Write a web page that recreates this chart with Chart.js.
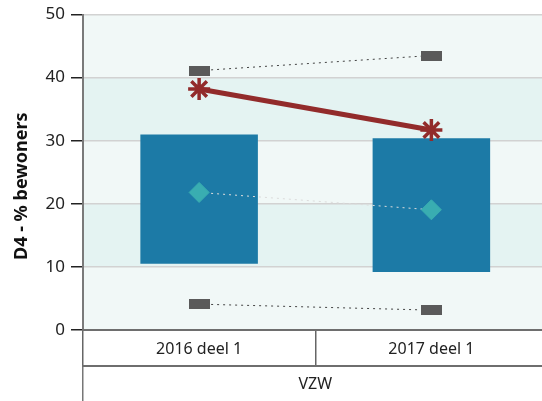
<!DOCTYPE html>
<html>
<head>
<meta charset="utf-8">
<script src="https://cdn.jsdelivr.net/npm/chart.js@4"></script>
<style>
  html, body { margin: 0; padding: 0; overflow: hidden; background: #fff; }
  #wrap { width: 562px; height: 401px; }
</style>
</head>
<body>
<div id="wrap"><canvas id="grafica" width="562" height="401"></canvas></div>
<script>
// Datos
const periodes = ['2016 deel 1', '2017 deel 1'];
const groep = ['VZW'];
const p25 = [10.5, 9.2];
const p75 = [31.0, 30.4];
const mediaan = [21.8, 19.05];
const maximum = [41.1, 43.5];
const minimum = [4.1, 3.15];
const eigen = [38.2, 31.7];
const asTitel = 'D4 - % bewoners';

// Marker rechthoekje voor min/max
function rechthoek() {
  const c = document.createElement('canvas');
  c.width = 21;
  c.height = 10;
  const g = c.getContext('2d');
  g.fillStyle = '#5a5a5a';
  g.fillRect(0, 0, 21, 10);
  return c;
}
const blokje = rechthoek();

// Achtergrondbanden
const banden = {
  id: 'banden',
  beforeDraw(chart) {
    const { ctx, chartArea, scales } = chart;
    const y = scales.y;
    ctx.save();
    ctx.fillStyle = '#f1f8f7';
    ctx.fillRect(chartArea.left, chartArea.top, chartArea.right - chartArea.left, chartArea.bottom - chartArea.top);
    ctx.fillStyle = '#e4f3f2';
    [[10, 20], [30, 40]].forEach(b => {
      const top = y.getPixelForValue(b[1]);
      const bot = y.getPixelForValue(b[0]);
      ctx.fillRect(chartArea.left, top, chartArea.right - chartArea.left, bot - top);
    });
    ctx.restore();
  },
  // Astitel, ongeveer gecentreerd over y-as plus eerste x-niveau
  afterDraw(chart) {
    const { ctx, scales } = chart;
    const midden = (scales.y.top + scales.x.bottom) / 2 - 4;
    ctx.save();
    ctx.translate(22, midden);
    ctx.rotate(-Math.PI / 2);
    ctx.font = 'bold 18px "Noto Sans"';
    ctx.fillStyle = '#111';
    ctx.textAlign = 'center';
    ctx.textBaseline = 'middle';
    ctx.fillText(asTitel, 0, 0);
    ctx.restore();
  }
};

const lijn = (data, extra) => Object.assign({
  type: 'line',
  data: data,
  order: 1,
  borderWidth: 1,
  borderDash: [2, 4],
  borderColor: '#444',
  pointStyle: blokje,
  pointRadius: 10,
  fill: false
}, extra);

new Chart(document.getElementById('grafica'), {
  type: 'bar',
  data: {
    labels: periodes,
    datasets: [
      {
        label: 'P25-P75',
        data: p25.map((v, i) => [v, p75[i]]),
        backgroundColor: '#1c7aa6',
        barPercentage: 0.506,
        categoryPercentage: 1,
        order: 10
      },
      lijn(maximum, { label: 'max' }),
      lijn(minimum, { label: 'min' }),
      lijn(mediaan, {
        label: 'mediaan',
        borderColor: '#dcdcdc',
        pointStyle: 'rectRot',
        pointRadius: 10,
        pointBackgroundColor: '#39adb1',
        pointBorderColor: '#39adb1',
        pointBorderWidth: 1
      }),
      {
        type: 'line',
        label: 'eigen',
        data: eigen,
        order: 0,
        borderColor: '#922b2b',
        borderWidth: 5,
        pointStyle: 'star',
        pointRadius: 11,
        pointBorderWidth: 3.5,
        pointBorderColor: '#922b2b',
        pointBackgroundColor: '#922b2b'
      }
    ]
  },
  options: {
    responsive: false,
    animation: false,
    layout: { padding: { top: 8, right: 0, left: 0, bottom: 0 } },
    plugins: {
      legend: { display: false },
      tooltip: { enabled: false }
    },
    scales: {
      y: {
        min: 0,
        max: 50,
        ticks: { stepSize: 10, color: '#222', font: { family: 'Noto Sans', size: 17 }, padding: 6 },
        grid: { color: '#d2d2d2', lineWidth: 1.5, tickLength: 12, tickColor: '#222', tickWidth: 1.5 },
        border: { color: '#7a7a7a', width: 2 },
        afterFit(scale) {
          scale.width = 83;
          scale.paddingTop = 0;
          scale.paddingBottom = 0;
        }
      },
      x: {
        position: 'bottom',
        ticks: { color: '#222', font: { family: 'Noto Sans', size: 16 }, padding: -26 },
        grid: { offset: true, drawOnChartArea: false, tickLength: 36, color: '#666', lineWidth: 1.5 },
        border: { color: '#6e6e6e', width: 2 },
        afterFit(scale) { scale.height = 36; }
      },
      x2: {
        type: 'category',
        labels: groep,
        position: 'bottom',
        ticks: { color: '#222', font: { family: 'Noto Sans', size: 16 }, padding: -27 },
        grid: { offset: true, drawOnChartArea: false, tickLength: 36, color: '#777', lineWidth: 1.5 },
        border: { color: '#6e6e6e', width: 2 },
        afterFit(scale) { scale.height = 35; }
      }
    }
  },
  plugins: [banden]
});
</script>
</body>
</html>
